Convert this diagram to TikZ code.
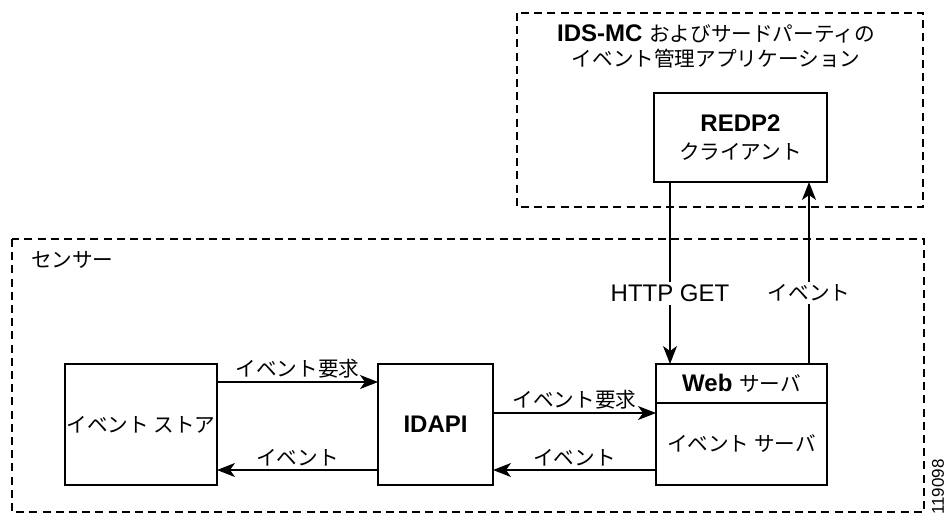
\documentclass[tikz,border=0pt]{standalone}
\usepackage{fontspec}
\setmainfont{Liberation Sans}
\newfontfamily\jpfont{Noto Sans CJK JP}[Scale=0.86]
\usetikzlibrary{arrows.meta}
\usetikzlibrary{positioning}

\tikzset{
	block/.style={ draw, line width=0.6pt, inner sep=0pt, outer sep=0pt, align=center },
	region/.style={ line width=1.3pt, dash pattern=on 4pt off 2.6pt },
	flow/.style={ line width=0.6pt, -{Stealth[length=9pt, width=7pt, inset=2.5pt]} },
	flowtag/.style={ above, inner sep=1.5pt },
	cuttag/.style={ fill=white, inner sep=1.5pt },
}

\begin{document}
\begin{tikzpicture}[ x=0.5pt, y=-0.5pt, font=\fontsize{12}{14}\selectfont ]

	\def\boxh{60.5pt}
	\def\upper{21.25pt}
	\def\lower{-22.75pt}

	\useasboundingbox (0, 0) rectangle (946, 516);

	\draw[ region ] (517, 13) rectangle (923, 207);
	\draw[ region ] (12, 239) rectangle (924, 512);

	\node[ align=center, font=\fontsize{12}{12.5}\selectfont ] (title) at (716, 46) {\textbf{IDS-MC} \jpfont およびサードパーティの\\ \jpfont イベント管理アプリケーション};
	\node[ anchor=west ] (sensor) at (24, 260) {\jpfont センサー};

	\node[ block, minimum width=86.5pt, minimum height=44.5pt ] (redp) at (740.5, 137.5) {\textbf{REDP2}\\ \jpfont クライアント};

	\node[ block, minimum width=76pt, minimum height=\boxh ] (store) at (141, 424.5) {\jpfont イベント ストア};
	\node[ block, minimum width=57.5pt, minimum height=\boxh ] (idapi) at (435.5, 424.5) {\textbf{IDAPI}};
	\node[ block, minimum width=85.5pt, minimum height=19.5pt ] (webhdr) at (741.5, 383.5) {\textbf{Web} \jpfont サーバ};
	\node[ block, minimum width=85.5pt, minimum height=41pt, below=0pt of webhdr ] (evsrv) {\jpfont イベント サーバ};

	\draw[ flow ] ([yshift=\upper]store.east) -- node[ flowtag ] {\jpfont イベント要求} ([yshift=\upper]store.east -| idapi.west);
	\draw[ flow ] ([yshift=\lower]idapi.west) -- node[ flowtag ] {\jpfont イベント} ([yshift=\lower]idapi.west -| store.east);
	\draw[ flow ] ([yshift=5.75pt]idapi.east) -- node[ flowtag ] {\jpfont イベント要求} ([yshift=5.75pt]idapi.east -| evsrv.west);
	\draw[ flow ] ([yshift=\lower]idapi.east -| evsrv.west) -- node[ flowtag ] {\jpfont イベント} ([yshift=\lower]idapi.east);

	\draw[ flow ] ([xshift=-35.25pt]redp.south) -- node[ cuttag, pos=0.61 ] {HTTP GET} ([xshift=-35.25pt]redp.south |- webhdr.north);
	\draw[ flow ] ([xshift=34.25pt]redp.south |- webhdr.north) -- node[ cuttag, pos=0.39 ] {\jpfont イベント} ([xshift=34.25pt]redp.south);

	\node[ rotate=90, font=\fontsize{8.5}{10}\selectfont ] (figid) at (938, 487) {119098};

\end{tikzpicture}
\end{document}
